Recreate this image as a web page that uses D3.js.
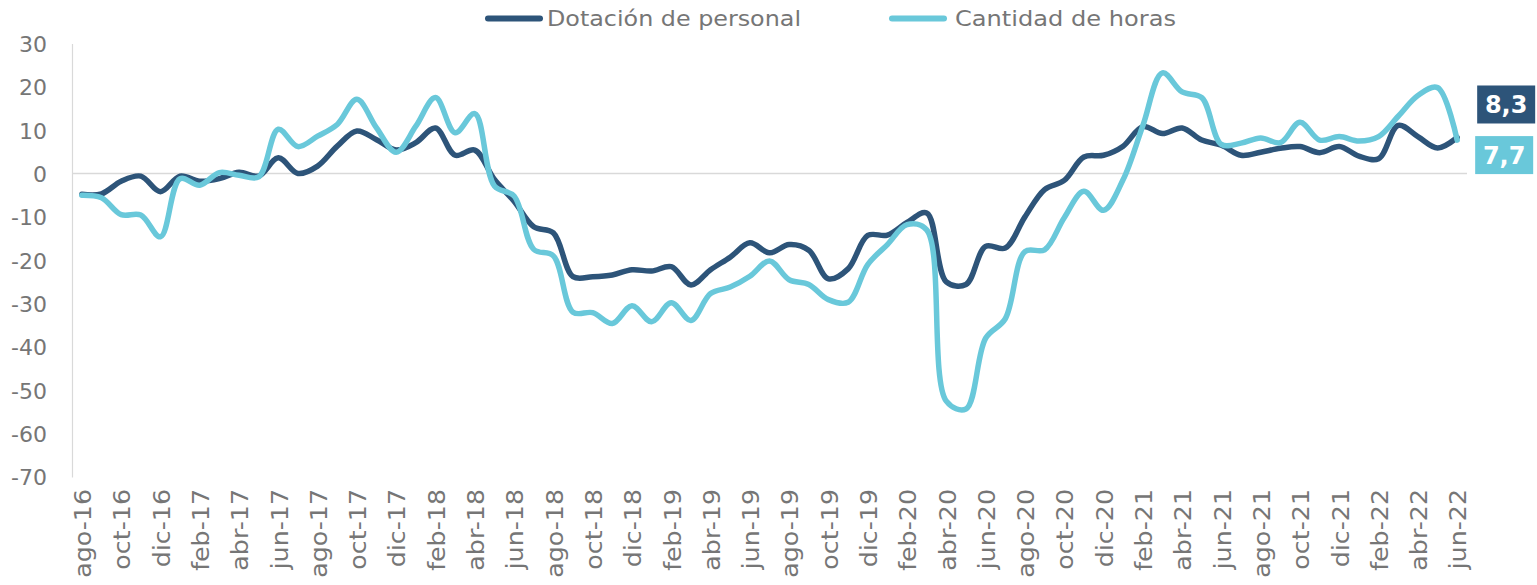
<!DOCTYPE html>
<html>
<head>
<meta charset="utf-8">
<script src="https://cdn.jsdelivr.net/npm/d3@7"></script>
<style>
  body { margin: 0; background: #fff; }
  #chart text { font-family: 'DejaVu Sans', Verdana, sans-serif; }
</style>
</head>
<body>
<div id="chart"></div>
<script>
// months, ago-16 .. jun-22
const months = [
  'ago-16', 'sep-16', 'oct-16', 'nov-16', 'dic-16',
  'ene-17', 'feb-17', 'mar-17', 'abr-17', 'may-17', 'jun-17', 'jul-17', 'ago-17', 'sep-17', 'oct-17', 'nov-17', 'dic-17',
  'ene-18', 'feb-18', 'mar-18', 'abr-18', 'may-18', 'jun-18', 'jul-18', 'ago-18', 'sep-18', 'oct-18', 'nov-18', 'dic-18',
  'ene-19', 'feb-19', 'mar-19', 'abr-19', 'may-19', 'jun-19', 'jul-19', 'ago-19', 'sep-19', 'oct-19', 'nov-19', 'dic-19',
  'ene-20', 'feb-20', 'mar-20', 'abr-20', 'may-20', 'jun-20', 'jul-20', 'ago-20', 'sep-20', 'oct-20', 'nov-20', 'dic-20',
  'ene-21', 'feb-21', 'mar-21', 'abr-21', 'may-21', 'jun-21', 'jul-21', 'ago-21', 'sep-21', 'oct-21', 'nov-21', 'dic-21',
  'ene-22', 'feb-22', 'mar-22', 'abr-22', 'may-22', 'jun-22'
]

const dotacion = [
  -4.8, -4.7, -1.8, -0.6, -4.2, -0.6, -1.8, -1.2, 0.3, -0.6,
  3.6, 0.0, 1.7, 6.3, 9.8, 7.8, 5.4, 7.1, 10.5, 4.2,
  5.4, -1.4, -6.4, -12.3, -13.7, -23.8, -23.8, -23.4, -22.2, -22.5,
  -21.5, -25.7, -22.2, -19.3, -16.0, -18.3, -16.4, -17.7, -24.3, -22.0,
  -14.3, -14.2, -11.3, -9.1, -25.0, -25.6, -16.8, -17.2, -10.0, -3.7,
  -1.6, 3.8, 4.2, 6.3, 10.8, 9.2, 10.5, 7.7, 6.5, 4.2,
  4.9, 5.8, 6.2, 4.8, 6.2, 4.0, 3.4, 11.1, 8.5, 5.9,
  8.3
]

const horas = [
  -5.0, -5.6, -9.5, -9.6, -14.6, -1.2, -2.7, 0.2, -0.4, -0.8,
  10.2, 6.2, 8.6, 11.3, 17.1, 10.5, 4.9, 10.9, 17.5, 9.4,
  13.8, -2.9, -5.2, -17.5, -19.0, -32.0, -32.1, -34.6, -30.5, -34.2,
  -29.8, -33.9, -27.7, -26.2, -23.7, -20.2, -24.5, -25.6, -29.1, -29.7,
  -21.0, -16.4, -11.8, -13.0, -52.5, -54.3, -38.0, -33.5, -18.0, -17.6,
  -10.2, -4.1, -8.5, -1.4, 11.0, 23.2, 18.8, 17.5, 6.7, 7.0,
  8.2, 7.1, 11.8, 7.7, 8.5, 7.5, 8.5, 13.2, 18.0, 19.8,
  7.7
]

const yTicks = [30, 20, 10, 0, -10, -20, -30, -40, -50, -60, -70]
const seriesNames = ['Dotación de personal', 'Cantidad de horas']
const lastLabels = ['8,3', '7,7']

const colors = ['#2d5479', '#69c8da']
const grey = '#767676'
const gridGrey = '#d9d9d9'

const totalW = 1537
const totalH = 585
const margin = { top: 43.4, left: 72, right: 70, bottom: 108 }
const width = totalW - margin.left - margin.right
const height = totalH - margin.top - margin.bottom

const svg = d3
  .select('#chart')
  .append('svg')
  .attr('width', totalW)
  .attr('height', totalH)
  .append('g')
  .attr('transform', 'translate(' + margin.left + ',' + margin.top + ')')

/// Scales////////////////////////////////
const xScale = d3.scaleBand().domain(months).range([0, width]).padding(0)
const yScale = d3.scaleLinear().domain([-70, 30]).range([height, 0])
const xPos = m => xScale(m) + xScale.bandwidth() / 2

// y axis
svg
  .append('g')
  .attr('class', 'axis y-axis')
  .call(
    d3
      .axisLeft(yScale)
      .tickValues(yTicks)
      .tickSizeInner(0)
      .tickSizeOuter(0)
      .tickPadding(25)
      .tickFormat(d => String(d))
  )
  .call(g => g.select('.domain').attr('stroke', gridGrey).attr('stroke-width', 1.2))
  .call(g =>
    g
      .selectAll('text')
      .attr('fill', grey)
      .attr('font-size', 22)
      .attr('dy', '0.36em')
  )

// zero line (category axis)
svg
  .append('line')
  .attr('x1', 0)
  .attr('x2', width)
  .attr('y1', yScale(0))
  .attr('y2', yScale(0))
  .attr('stroke', gridGrey)
  .attr('stroke-width', 1.5)

// x axis labels every 2 months
svg
  .append('g')
  .attr('class', 'axis x-axis')
  .attr('transform', 'translate(0,' + height + ')')
  .call(
    d3
      .axisBottom(xScale)
      .tickValues(months.filter((d, i) => i % 2 === 0))
      .tickSize(0)
      .tickPadding(0)
  )
  .call(g => g.select('.domain').remove())
  .call(g =>
    g
      .selectAll('text')
      .attr('fill', grey)
      .attr('font-size', 23)
      .attr('text-anchor', 'end')
      .attr('transform', 'translate(1,12) rotate(-90)')
      .attr('x', 0)
      .attr('y', 0)
      .attr('dy', '0.36em')
      .attr('textLength', function() {
        return this.getComputedTextLength() * 1.1
      })
      .attr('lengthAdjust', 'spacingAndGlyphs')
  )

/// lines////////////////////////////////
const line = values =>
  d3
    .line()
    .x((d, i) => xPos(months[i]))
    .y(d => yScale(d))
    .curve(d3.curveCatmullRom.alpha(0.5))(values)

;[dotacion, horas].forEach((values, k) => {
  svg
    .append('path')
    .attr('class', 'series-line')
    .attr('d', line(values))
    .attr('fill', 'none')
    .attr('stroke', colors[k])
    .attr('stroke-width', 5.5)
    .attr('stroke-linejoin', 'round')
    .attr('stroke-linecap', 'round')
})

/// end labels////////////////////////////////
const lastX = xPos(months[months.length - 1])
const labelBoxes = [
  { y: yScale(dotacion[dotacion.length - 1]) - 52, x: lastX + 20 },
  { y: yScale(horas[horas.length - 1]) - 4, x: lastX + 18 }
]
labelBoxes.forEach((b, k) => {
  svg
    .append('rect')
    .attr('x', b.x)
    .attr('y', b.y)
    .attr('width', 58)
    .attr('height', 38)
    .attr('fill', colors[k])
  svg
    .append('text')
    .text(lastLabels[k])
    .attr('x', b.x + 29)
    .attr('y', b.y + 19)
    .attr('dy', '0.36em')
    .attr('text-anchor', 'middle')
    .attr('font-size', 24)
    .attr('font-weight', 'bold')
    .attr('fill', '#fff')
})

/// legend////////////////////////////////
const legendItems = [
  { x1: 416, x2: 468, tx: 475, len: 254 },
  { x1: 820, x2: 872, tx: 883, len: 221 }
]
legendItems.forEach((l, k) => {
  svg
    .append('line')
    .attr('x1', l.x1)
    .attr('x2', l.x2)
    .attr('y1', -25)
    .attr('y2', -25)
    .attr('stroke', colors[k])
    .attr('stroke-width', 6)
    .attr('stroke-linecap', 'round')
  svg
    .append('text')
    .attr('class', 'legend-text')
    .text(seriesNames[k])
    .attr('x', l.tx)
    .attr('y', -25)
    .attr('dy', '0.36em')
    .attr('font-size', 22)
    .attr('fill', grey)
    .attr('textLength', l.len)
    .attr('lengthAdjust', 'spacingAndGlyphs')
})
</script>
</body>
</html>
